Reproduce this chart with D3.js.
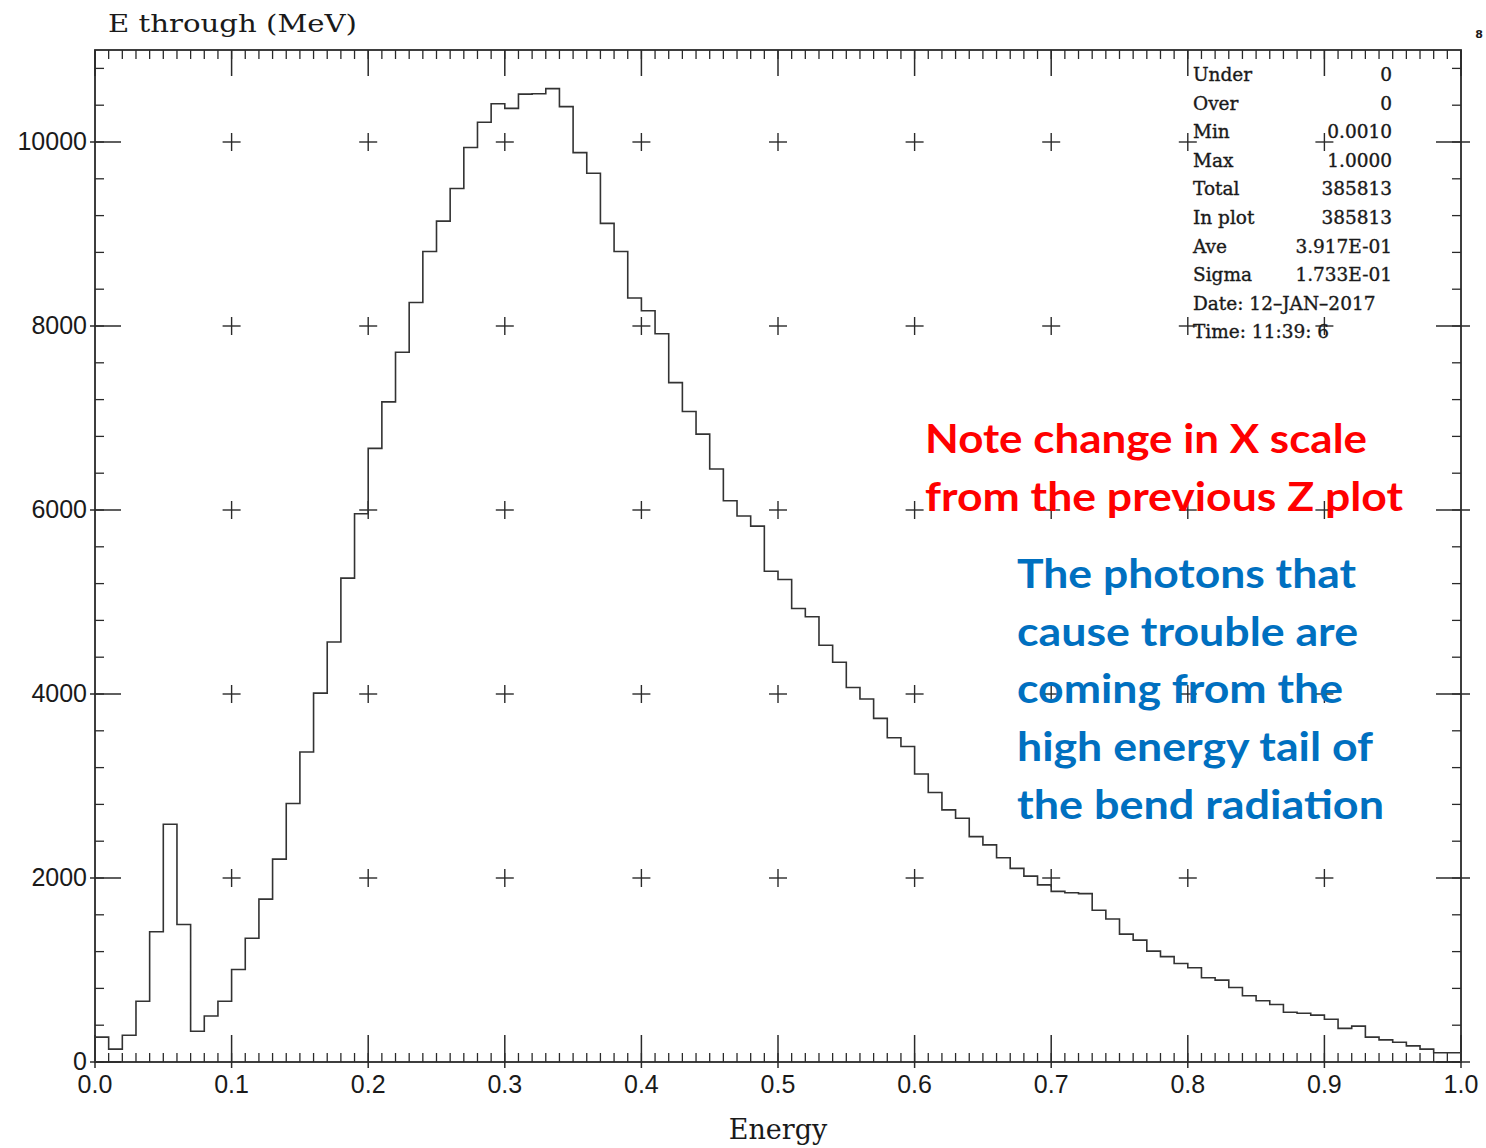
<!DOCTYPE html>
<html>
<head>
<meta charset="utf-8">
<script src="https://cdn.jsdelivr.net/npm/d3@7"></script>
<style>
  html, body { margin: 0; padding: 0; background: #fff; }
  svg { display: block; }
</style>
</head>
<body>
<svg id="chart" width="1486" height="1148"></svg>
<script>
// Energy spectrum of photons passing through, 100 bins of 0.01 MeV
const binWidth = 0.01;
const counts = [
  270, 140, 290, 660, 1415, 2585, 1495, 335, 500, 660,
  1005, 1345, 1770, 2205, 2810, 3370, 4010, 4565, 5260, 5960,
  6670, 7175, 7715, 8255, 8810, 9140, 9495, 9940, 10215, 10415,
  10365, 10520, 10525, 10580, 10385, 9885, 9660, 9115, 8810, 8305,
  8165, 7915, 7385, 7070, 6825, 6445, 6100, 5935, 5825, 5335,
  5245, 4930, 4840, 4530, 4345, 4070, 3945, 3735, 3525, 3430,
  3130, 2930, 2740, 2650, 2450, 2360, 2220, 2105, 2020, 1925,
  1855, 1840, 1830, 1650, 1555, 1390, 1325, 1205, 1145, 1070,
  1025, 915, 890, 810, 720, 665, 625, 540, 530, 510,
  465, 365, 390, 270, 240, 215, 175, 140, 100, 100
];

const xMajorTicks = [0, 0.1, 0.2, 0.3, 0.4, 0.5, 0.6, 0.7, 0.8, 0.9, 1.0];
const xTickLabels = ["0.0", "0.1", "0.2", "0.3", "0.4", "0.5", "0.6", "0.7", "0.8", "0.9", "1.0"];
const yMajorTicks = [0, 2000, 4000, 6000, 8000, 10000];
const yTickLabels = ["0", "2000", "4000", "6000", "8000", "10000"];

const title = "E through (MeV)";
const xTitle = "Energy";
const pageNumber = "8";

const statLabels = ["Under", "Over", "Min", "Max", "Total", "In plot", "Ave", "Sigma"];
const statValues = ["0", "0", "0.0010", "1.0000", "385813", "385813", "3.917E-01", "1.733E-01"];
const statFooter = ["Date: 12\u2013JAN\u20132017", "Time: 11:39: 6"];

const noteLines = ["Note change in X scale", "from the previous Z plot"];
const causeLines = ["The photons that", "cause trouble are", "coming from the", "high energy tail of", "the bend radiation"];

(function draw() {
  const svg = d3.select("#chart");
  const plotL = 95, plotR = 1461, plotT = 50, plotB = 1062;
  const ink = "#2a2a2a";

  const x = d3.scaleLinear().domain([0, 1]).range([plotL, plotR]);
  const y = d3.scaleLinear().domain([0, 11000]).range([plotB, plotT]);

  const xMinor = d3.range(0, 101).map(i => i / 100);
  const yMinor = d3.range(0, 11001, 400);

  const g = svg.append("g").attr("stroke", ink).attr("fill", "none");

  // frame
  g.append("rect")
    .attr("x", x(0)).attr("y", y(11000))
    .attr("width", x(1) - x(0)).attr("height", y(0) - y(11000))
    .attr("stroke-width", 1.8);

  // minor ticks on all four sides
  const minor = g.append("g").attr("stroke-width", 1.3);
  minor.append("g").selectAll("line").data(xMinor).join("line")
    .attr("x1", d => x(d)).attr("x2", d => x(d))
    .attr("y1", y(0)).attr("y2", y(0) - 9);
  minor.append("g").selectAll("line").data(xMinor).join("line")
    .attr("x1", d => x(d)).attr("x2", d => x(d))
    .attr("y1", y(11000)).attr("y2", y(11000) + 9);
  minor.append("g").selectAll("line").data(yMinor).join("line")
    .attr("x1", x(0)).attr("x2", x(0) + 9)
    .attr("y1", d => y(d)).attr("y2", d => y(d));
  minor.append("g").selectAll("line").data(yMinor).join("line")
    .attr("x1", x(1)).attr("x2", x(1) - 9)
    .attr("y1", d => y(d)).attr("y2", d => y(d));

  // major ticks
  const major = g.append("g").attr("stroke-width", 1.5);
  major.append("g").selectAll("line").data(xMajorTicks).join("line")
    .attr("x1", d => x(d)).attr("x2", d => x(d))
    .attr("y1", y(0) + 6).attr("y2", y(0) - 27);
  major.append("g").selectAll("line").data(xMajorTicks).join("line")
    .attr("x1", d => x(d)).attr("x2", d => x(d))
    .attr("y1", y(11000)).attr("y2", y(11000) + 26);
  major.append("g").selectAll("line").data(yMajorTicks).join("line")
    .attr("x1", x(0) - 5).attr("x2", x(0) + 26)
    .attr("y1", d => y(d)).attr("y2", d => y(d));
  major.append("g").selectAll("line").data(yMajorTicks).join("line")
    .attr("x1", x(1) + 9).attr("x2", x(1) - 25)
    .attr("y1", d => y(d)).attr("y2", d => y(d));

  // statistics box
  const stats = svg.append("g")
    .attr("font-family", "'DejaVu Serif', serif")
    .attr("font-size", 18.5)
    .attr("fill", "#1a1a1a")
    .attr("stroke", "#1a1a1a")
    .attr("stroke-width", 0.35);
  const rowY = i => 81 + i * 28.6;
  statLabels.forEach((lab, i) => {
    stats.append("text").attr("x", 1193).attr("y", rowY(i)).text(lab);
    stats.append("text").attr("x", 1392).attr("y", rowY(i))
      .attr("text-anchor", "end").text(statValues[i]);
  });
  statFooter.forEach((t, i) => {
    stats.append("text").attr("x", 1193).attr("y", rowY(statLabels.length + i)).text(t);
  });

  // grid crosses at interior major tick intersections
  const crossPts = [];
  xMajorTicks.slice(1, -1).forEach(xv => yMajorTicks.slice(1).forEach(yv => crossPts.push([xv, yv])));
  const cross = g.append("g").attr("stroke-width", 1.4);
  cross.append("g").selectAll("line").data(crossPts).join("line")
    .attr("x1", d => x(d[0]) - 9).attr("x2", d => x(d[0]) + 9)
    .attr("y1", d => y(d[1])).attr("y2", d => y(d[1]));
  cross.append("g").selectAll("line").data(crossPts).join("line")
    .attr("x1", d => x(d[0])).attr("x2", d => x(d[0]))
    .attr("y1", d => y(d[1]) - 9).attr("y2", d => y(d[1]) + 9);

  // histogram outline
  const pts = [[0, 0]].concat(counts.map((c, i) => [i * binWidth, c]), [[1, 0]]);
  g.append("path")
    .datum(pts)
    .attr("stroke", "#333")
    .attr("stroke-width", 1.6)
    .attr("d", d3.line().x(d => x(d[0])).y(d => y(d[1])).curve(d3.curveStepAfter));

  // tick labels
  const lab = svg.append("g")
    .attr("font-family", "'Liberation Sans', Arial, sans-serif")
    .attr("font-size", 25)
    .attr("fill", "#1a1a1a");
  lab.append("g").selectAll("text").data(xMajorTicks).join("text")
    .attr("x", d => x(d)).attr("y", y(0) + 31)
    .attr("text-anchor", "middle")
    .text((d, i) => xTickLabels[i]);
  lab.append("g").selectAll("text").data(yMajorTicks).join("text")
    .attr("x", x(0) - 8).attr("y", d => y(d) + 8)
    .attr("text-anchor", "end")
    .text((d, i) => yTickLabels[i]);

  // titles
  svg.append("text")
    .attr("x", 108).attr("y", 32)
    .attr("font-family", "'DejaVu Serif', serif")
    .attr("font-size", 24)
    .attr("textLength", 249).attr("lengthAdjust", "spacingAndGlyphs")
    .attr("fill", "#1a1a1a")
    .text(title);
  svg.append("text")
    .attr("x", (x(0) + x(1)) / 2).attr("y", 1139)
    .attr("text-anchor", "middle")
    .attr("font-family", "'DejaVu Serif', serif")
    .attr("font-size", 27)
    .attr("fill", "#1a1a1a")
    .text(xTitle);
  svg.append("text")
    .attr("x", 1479).attr("y", 38)
    .attr("text-anchor", "middle")
    .attr("font-family", "'DejaVu Sans', sans-serif")
    .attr("font-weight", "bold")
    .attr("font-size", 11)
    .attr("fill", "#1a1a1a")
    .text(pageNumber);

  // annotations
  const note = svg.append("g")
    .attr("font-family", "Lato, 'Open Sans', sans-serif")
    .attr("font-weight", "bold")
    .attr("font-size", 40);
  const noteWidths = [442, 478];
  noteLines.forEach((t, i) => {
    note.append("text")
      .attr("x", 925).attr("y", 453 + i * 57.5)
      .attr("fill", "#ff0000")
      .attr("textLength", noteWidths[i]).attr("lengthAdjust", "spacingAndGlyphs")
      .text(t);
  });
  const causeWidths = [339, 341, 326, 356, 367];
  causeLines.forEach((t, i) => {
    note.append("text")
      .attr("x", 1017).attr("y", 588 + i * 57.7)
      .attr("fill", "#0070c0")
      .attr("textLength", causeWidths[i]).attr("lengthAdjust", "spacingAndGlyphs")
      .text(t);
  });
})();
</script>
</body>
</html>
